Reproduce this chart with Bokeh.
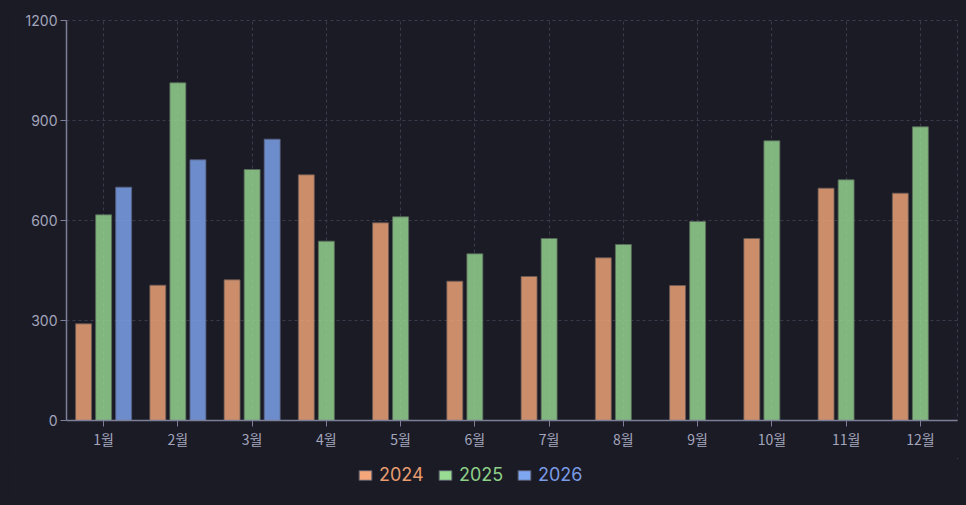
from bokeh.plotting import figure
from bokeh.models import ColumnDataSource, FactorRange, FixedTicker, Legend, LegendItem, Range1d
from bokeh.layouts import column
from bokeh.transform import dodge
from bokeh.embed import file_html
from bokeh.resources import INLINE

months = ["1월", "2월", "3월", "4월", "5월", "6월", "7월", "8월", "9월", "10월", "11월", "12월"]
v2024 = [290, 406, 422, 737, 593, 418, 432, 488, 405, 546, 697, 682]
v2025 = [617, 1013, 753, 538, 611, 500, 546, 528, 597, 839, 722, 881]
months_2026 = ["1월", "2월", "3월"]
v2026 = [700, 782, 844]
y_ticks = [0, 300, 600, 900, 1200]
labels = ["2024", "2025", "2026"]

series_colors = ["#F4A77A", "#98DB92", "#7FA6F0"]
text_colors = ["#E89C70", "#8ECF88", "#7A9AE4"]
bg = "#1b1b26"
axis_col = "#7d7f99"
tick_col = "#a4a6bc"
grid_col = "#3a3b4c"
font = "Noto Sans CJK KR"

src = ColumnDataSource(dict(m=months, a=v2024, b=v2025))
src26 = ColumnDataSource(dict(m=months_2026, c=v2026))

p = figure(x_range=FactorRange(*months), y_range=(0, 1200),
           frame_width=891, frame_height=400,
           output_backend="svg", toolbar_location=None,
           background_fill_color=bg, border_fill_color=bg)
p.min_border_left = 58
p.min_border_top = 12
p.min_border_right = 1
p.min_border_bottom = 38

bw = 0.215
p.vbar(x=dodge("m", -0.27, range=p.x_range), top="a", width=bw, source=src,
       fill_color=series_colors[0], fill_alpha=0.82, line_color="#6a5a55", line_alpha=0.8)
p.vbar(x=dodge("m", 0.0, range=p.x_range), top="b", width=bw, source=src,
       fill_color=series_colors[1], fill_alpha=0.82, line_color="#5a6a5a", line_alpha=0.8)
p.vbar(x=dodge("m", 0.27, range=p.x_range), top="c", width=bw, source=src26,
       fill_color=series_colors[2], fill_alpha=0.82, line_color="#5a6080", line_alpha=0.8)

p.yaxis.ticker = FixedTicker(ticks=y_ticks)
for ax in (p.xaxis, p.yaxis):
    ax.axis_line_color = axis_col
    ax.axis_line_width = 1.5
    ax.major_tick_line_color = axis_col
    ax.major_tick_out = 6
    ax.major_tick_in = 0
    ax.minor_tick_line_color = None
    ax.major_label_text_color = tick_col
    ax.major_label_text_font = font
    ax.major_label_text_font_size = "14px"
p.yaxis.major_label_text_font = "Inter"
p.yaxis.major_label_standoff = 3
p.xaxis.major_label_standoff = 2

p.xgrid.grid_line_color = grid_col
p.xgrid.grid_line_dash = "3 3"
p.ygrid.grid_line_color = grid_col
p.ygrid.grid_line_dash = "3 3"
p.outline_line_color = grid_col
p.outline_line_dash = "3 3"
p.x_range.range_padding = 0
p.x_range.factor_padding = 0

# legend strip below the chart
p2 = figure(width=950, height=39, x_range=Range1d(0, 1), y_range=Range1d(0, 1),
            x_axis_location=None, y_axis_location=None,
            output_backend="svg", toolbar_location=None,
            background_fill_color=bg, border_fill_color=bg, min_border=0)
p2.outline_line_color = None
p2.grid.visible = False
offscreen = ColumnDataSource(dict(x=[5], top=[6], bottom=[5]))
xs = [291, 371, 450]
for lab, x, tc, sc in zip(labels, xs, text_colors, series_colors):
    r = p2.vbar(x="x", top="top", bottom="bottom", width=0.1, source=offscreen,
                fill_color=sc, line_color="#55586a")
    lg = Legend(items=[LegendItem(label=lab, renderers=[r])], location=(x, 12),
                orientation="horizontal", background_fill_alpha=0, border_line_alpha=0,
                padding=0, margin=0, glyph_width=16, glyph_height=12, label_height=20,
                label_standoff=6, label_text_color=tc, label_text_font="Inter",
                label_text_font_size="18px")
    p2.add_layout(lg, "center")

layout = column(p, p2, spacing=0)
html = file_html(layout, INLINE)
html = html.replace("<body>", '<body style="background:%s;margin:8px">' % bg)
open("out.html", "w").write(html)
